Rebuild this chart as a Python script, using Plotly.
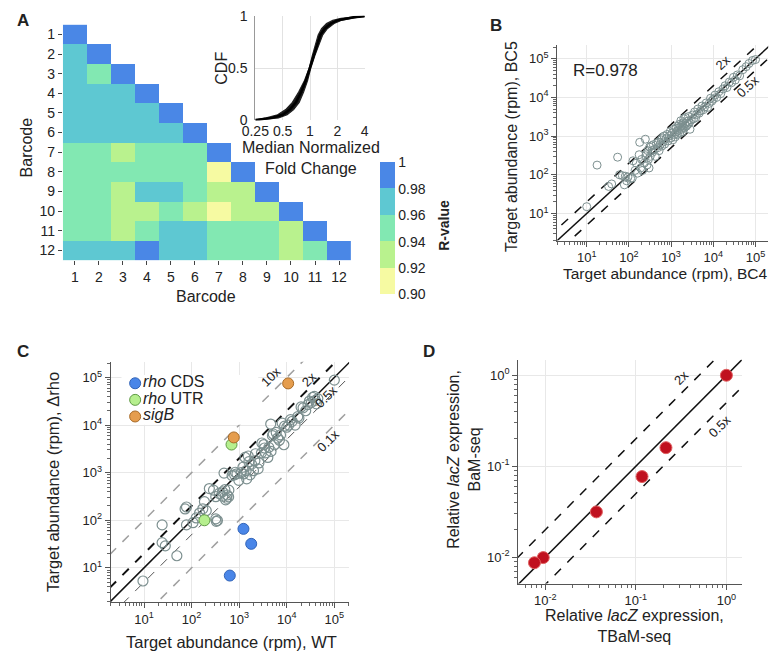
import plotly.graph_objects as go

W, H = 780, 659
FONT = "Liberation Sans, Arial, sans-serif"

# ---------------- data ----------------
# A: pairwise R-values between barcodes (lower triangle, row = barcode on y)
barcodes = list(range(1, 13))
r_values = [
    [1.0],
    [0.970, 1.0],
    [0.968, 0.952, 1.0],
    [0.972, 0.970, 0.966, 1.0],
    [0.971, 0.969, 0.967, 0.973, 1.0],
    [0.966, 0.968, 0.965, 0.970, 0.972, 1.0],
    [0.950, 0.948, 0.935, 0.951, 0.953, 0.949, 1.0],
    [0.952, 0.950, 0.947, 0.949, 0.951, 0.948, 0.915, 1.0],
    [0.948, 0.946, 0.933, 0.965, 0.967, 0.952, 0.931, 0.934, 1.0],
    [0.946, 0.944, 0.930, 0.932, 0.945, 0.933, 0.912, 0.932, 0.935, 1.0],
    [0.949, 0.951, 0.934, 0.950, 0.966, 0.963, 0.947, 0.950, 0.948, 0.936, 1.0],
    [0.968, 0.966, 0.962, 0.985, 0.970, 0.969, 0.953, 0.951, 0.950, 0.933, 0.955, 1.0],
]
cbar_ticks = [0.90, 0.92, 0.94, 0.96, 0.98, 1.0]
cbar_labels = ["0.90", "0.92", "0.94", "0.96", "0.98", "1"]

# A inset: CDF of median normalized fold change (band edges + centre)
cdf_y = [0, 0.02, 0.05, 0.1, 0.17, 0.27, 0.38, 0.5, 0.62, 0.73, 0.82, 0.88, 0.93, 0.96, 0.98, 0.99, 1.0]
cdf_left = [0.25, 0.33, 0.44, 0.54, 0.64, 0.75, 0.87, 0.98, 1.06, 1.14, 1.23, 1.34, 1.52, 1.78, 2.2, 2.8, 4.0]
cdf_mid = [0.25, 0.38, 0.5, 0.6, 0.7, 0.8, 0.9, 1.0, 1.1, 1.2, 1.3, 1.45, 1.7, 2.0, 2.5, 3.0, 4.0]
cdf_right = [0.27, 0.45, 0.56, 0.66, 0.76, 0.85, 0.94, 1.02, 1.13, 1.26, 1.38, 1.55, 1.84, 2.2, 2.8, 3.4, 4.0]

# B: target abundance BC4 vs BC5
bc4 = [10, 17.6, 33, 39, 54, 60, 70, 78, 82, 88, 95, 110, 120, 125, 140, 150, 160, 175, 180, 190,
       200, 210, 230, 245, 250, 260, 270, 280, 290, 300, 310, 320, 340, 350, 360, 380, 400, 420, 450, 480,
       500, 520, 550, 580, 600, 620, 650, 680, 700, 750, 800, 850, 900, 950, 1000, 1050, 1100, 1150, 1200, 1250,
       1300, 1350, 1400, 1450, 1500, 1550, 1600, 1650, 1700, 1750, 1800, 1850, 1900, 1950, 2000, 2050, 2100, 2200, 2300, 2400,
       2500, 2600, 2700, 2800, 3000, 3200, 3400, 3600, 3800, 4000, 4300, 4600, 5000, 5400, 5800, 6200, 6800, 7300, 8000, 8600,
       9200, 10000, 11000, 12000, 13500, 15000, 17000, 19000, 21000, 24000, 27000, 30000, 33000, 37000, 42000, 50000, 60000, 70000, 85000, 100000]
bc5 = [15, 178, 50, 58, 285, 100, 95, 55, 92, 70, 88, 80, 82, 230, 130, 200, 110, 330, 690, 150,
       250, 130, 200, 830, 310, 350, 180, 420, 250, 150, 520, 300, 560, 420, 380, 600, 450, 300, 650, 500,
       700, 420, 600, 800, 550, 900, 700, 1000, 620, 850, 1100, 750, 1000, 1300, 900, 1200, 800, 1500, 1100, 950,
       1600, 1300, 1100, 1800, 1400, 2000, 1200, 1700, 2500, 1500, 1900, 1300, 2200, 1700, 2800, 1600, 2100, 3000, 1800, 2400,
       2000, 3200, 2200, 1500, 2600, 3500, 2800, 4200, 3000, 3600, 5000, 3900, 4500, 6000, 4800, 5600, 7200, 5500, 7000, 9500,
       8000, 9000, 11500, 10000, 14000, 12500, 16500, 20000, 18000, 25000, 24000, 33000, 28000, 38000, 36000, 52000, 62000, 75000, 90000, 95000]
r_text = "R=0.978"

# C: target abundance WT vs delta-rho
wt = [9.5, 24, 24, 28, 49, 73, 78, 78, 107, 125, 147, 172, 186, 203, 322, 349, 330, 236, 288, 322,
      380, 445, 520, 560, 607, 480, 500, 450, 550, 600, 710, 830, 980, 1230, 1440, 800, 900, 1100, 1330, 1550,
      1820, 2140, 2500, 2940, 3400, 4000, 4670, 5500, 6450, 7400, 8700, 1200, 1400, 1600, 1700, 2000, 2200, 2600, 3000, 3300,
      3600, 4200, 4600, 5000, 5200, 6000, 7000, 8000, 9000, 10000, 11000, 12000, 13000, 15000, 17000, 18000, 20000, 22000, 25000, 28000,
      30000, 33000, 35000, 38000, 40000, 42000, 45000, 100000]
drho = [5.3, 80, 34, 29, 18, 173, 190, 80, 89, 112, 142, 174, 247, 159, 107, 99, 95, 464, 430, 313,
        366, 397, 268, 340, 430, 980, 440, 320, 290, 310, 870, 1020, 690, 940, 740, 900, 950, 1000, 2090, 2240,
        1510, 1780, 1200, 2610, 3300, 2090, 2800, 3860, 5330, 6200, 3860, 1300, 1100, 1700, 900, 1100, 2500, 1600, 4200, 3900,
        2600, 3400, 10500, 6000, 6500, 7000, 4800, 11000, 9500, 9000, 10000, 13000, 12000, 10000, 15000, 14000, 24000, 23000, 20000, 27000,
        32000, 30000, 38000, 40000, 33000, 28000, 36000, 88000]
groups = ["<i>rho</i> CDS", "<i>rho</i> UTR", "<i>sigB</i>"]
group_wt = [[1230, 1790, 635], [186, 690], [770, 10700]]
group_drho = [[66, 32, 6.9], [100, 3900], [5500, 75000]]
group_fill = ["#4a86e8", "#b6ef8e", "#e59d4e"]
group_edge = ["#3264b8", "#5f9a45", "#a86a26"]

# D: relative lacZ expression
tbam = [1.0, 0.215, 0.117, 0.0367, 0.0095, 0.0076]
bam = [1.0, 0.16, 0.077, 0.0315, 0.0099, 0.0087]

guide_x = [1e-4, 1e7]


def px(x):
    return x / W


def py(y):
    return 1 - y / H


def note(text, x, y, size=16, angle=0, bold=False, color="#222", xanchor="center"):
    if bold:
        text = "<b>%s</b>" % text
    return dict(text=text, x=px(x), y=py(y), xref="paper", yref="paper", showarrow=False,
                textangle=angle, xanchor=xanchor, yanchor="middle",
                font=dict(size=size, color=color, family=FONT))


def pow10(e):
    return "10<sup>%d</sup>" % e


def log_axis(x0, x1, rng, exps, anchor):
    minor = [k * 10.0 ** e for e in range(-4, 7) for k in range(2, 10)]
    return dict(type="log", domain=[x0, x1], range=rng, anchor=anchor,
                tickvals=[10.0 ** e for e in exps], ticktext=[pow10(e) for e in exps],
                ticks="outside", ticklen=5, tickcolor="#555", showline=True, linecolor="#555",
                linewidth=1, showgrid=True, gridcolor="#e8e8e8", zeroline=False,
                tickfont=dict(size=13, color="#222"),
                minor=dict(tickvals=minor, ticks="outside", ticklen=3, tickcolor="#666", showgrid=False))


fig = go.Figure()

# ---- A heatmap
z = [row + [None] * (12 - len(row)) for row in r_values]
fig.add_trace(go.Heatmap(x=barcodes, y=barcodes, z=z, coloraxis="coloraxis",
                         xaxis="x", yaxis="y", hoverongaps=False))

# ---- A inset CDF
fig.add_trace(go.Scatter(x=cdf_left, y=cdf_y, mode="lines", line=dict(color="#222", width=1.2),
                         xaxis="x2", yaxis="y2", showlegend=False))
fig.add_trace(go.Scatter(x=cdf_right, y=cdf_y, mode="lines", line=dict(color="#222", width=1.2),
                         fill="tonextx", fillcolor="#1a1a1a", xaxis="x2", yaxis="y2", showlegend=False))
fig.add_trace(go.Scatter(x=cdf_mid, y=cdf_y, mode="lines", line=dict(color="#000", width=2.5),
                         xaxis="x2", yaxis="y2", showlegend=False))

# ---- B
for ratio, dash in [(1, "solid"), (2, "dash"), (0.5, "dash")]:
    fig.add_trace(go.Scatter(x=guide_x, y=[ratio * v for v in guide_x], mode="lines",
                             line=dict(color="#111", width=1.5, dash=dash),
                             xaxis="x3", yaxis="y3", showlegend=False, hoverinfo="skip"))
fig.add_trace(go.Scatter(x=bc4, y=bc5, mode="markers", showlegend=False, xaxis="x3", yaxis="y3",
                         marker=dict(symbol="circle-open", size=8, color="#7d9090", line=dict(width=1))))

# ---- C
for ratio, dash, color, width in [(10, "dash", "#a0a0a0", 1.5), (2, "dash", "#111", 2),
                                  (1, "solid", "#111", 1.5), (0.5, "dash", "#555", 1),
                                  (0.1, "dash", "#a0a0a0", 1.5)]:
    fig.add_trace(go.Scatter(x=guide_x, y=[ratio * v for v in guide_x], mode="lines",
                             line=dict(color=color, width=width, dash=dash),
                             xaxis="x4", yaxis="y4", showlegend=False, hoverinfo="skip"))
fig.add_trace(go.Scatter(x=wt, y=drho, mode="markers", showlegend=False, xaxis="x4", yaxis="y4",
                         marker=dict(symbol="circle-open", size=10, color="#7d9090", line=dict(width=1.2))))
for name, gx, gy, fc, ec in zip(groups, group_wt, group_drho, group_fill, group_edge):
    fig.add_trace(go.Scatter(x=gx, y=gy, mode="markers", name=name, xaxis="x4", yaxis="y4",
                             showlegend=False,
                             marker=dict(size=11, color=fc, line=dict(color=ec, width=1))))

# legend for C, laid out on its own hidden axis so rows sit 17px apart
fig.add_trace(go.Scatter(x=[0] * len(groups), y=groups, mode="markers+text", text=groups,
                         textposition="middle right", xaxis="x6", yaxis="y6", showlegend=False,
                         textfont=dict(size=16, color="#222"), cliponaxis=False,
                         marker=dict(size=11, color=group_fill, line=dict(color=group_edge, width=1))))

# ---- D
for ratio, dash in [(1, "solid"), (2, "dash"), (0.5, "dash")]:
    fig.add_trace(go.Scatter(x=guide_x, y=[ratio * v for v in guide_x], mode="lines",
                             line=dict(color="#111", width=1.5, dash=dash),
                             xaxis="x5", yaxis="y5", showlegend=False, hoverinfo="skip"))
fig.add_trace(go.Scatter(x=tbam, y=bam, mode="markers", showlegend=False, xaxis="x5", yaxis="y5",
                         marker=dict(size=12, color="#c0111f", line=dict(color="#e06060", width=1))))

# ---- colours for the R-value scale (0.90 -> 1.0, five bands)
band_cols = ["#f6faa2", "#b9f28e", "#82e8b2", "#5ec8d2", "#4a87e6"]
cscale = []
for i, c in enumerate(band_cols):
    cscale += [[i / 5, c], [(i + 1) / 5, c]]

heat_ax = dict(showgrid=False, zeroline=False, showline=False, ticks="outside", ticklen=4,
               tickcolor="#444", tickfont=dict(size=14, color="#222"), tickvals=barcodes)

fig.update_layout(
    width=W, height=H, margin=dict(l=0, r=0, t=0, b=0),
    paper_bgcolor="white", plot_bgcolor="white",
    font=dict(family=FONT, color="#222"),
    showlegend=False,
    coloraxis=dict(cmin=0.9, cmax=1.0, colorscale=cscale,
                   colorbar=dict(x=px(375), xanchor="left", y=py(158), yanchor="top",
                                 len=132, lenmode="pixels", thickness=15, xpad=0, ypad=0,
                                 outlinewidth=0, tickvals=cbar_ticks, ticktext=cbar_labels,
                                 ticks="", tickfont=dict(size=14, color="#222"))),
    xaxis=dict(heat_ax, domain=[px(50), px(345)], range=[0.5, 12.5], anchor="y"),
    yaxis=dict(heat_ax, domain=[py(258), py(17)], range=[12.5, 0.5], anchor="x"),
    xaxis2=dict(type="log", domain=[px(247), px(359)], range=[-0.60206, 0.60206], anchor="y2",
                tickvals=[0.25, 0.5, 1, 2, 4], ticktext=["0.25", "0.5", "1", "2", "4"],
                showgrid=True, gridcolor="#e2e2e2", zeroline=False, showline=False, ticks="",
                ticklabelstandoff=1, tickfont=dict(size=14, color="#222")),
    yaxis2=dict(domain=[py(115), py(8)], range=[-0.004, 1.004], anchor="x2", tickvals=[0, 0.5, 1],
                ticktext=["0", "0.5", "1"], showgrid=True, gridcolor="#e2e2e2", zeroline=False,
                showline=True, linecolor="#999", ticks="", ticklabelstandoff=4,
                tickfont=dict(size=14, color="#222")),
    xaxis3=log_axis(px(556), px(772), [0.3, 5.3], [1, 2, 3, 4, 5], "y3"),
    yaxis3=log_axis(py(238), py(38), [0.3, 5.35], [1, 2, 3, 4, 5], "x3"),
    xaxis4=log_axis(px(99), px(343), [0.3, 5.31], [1, 2, 3, 4, 5], "y4"),
    yaxis4=log_axis(py(608), py(362), [0.28, 5.33], [1, 2, 3, 4, 5], "x4"),
    xaxis5=log_axis(px(516), px(745), [-2.3, 0.17], [-2, -1, 0], "y5"),
    yaxis5=log_axis(py(589), py(360), [-2.29, 0.17], [-2, -1, 0], "x5"),
    xaxis6=dict(domain=[px(110), px(250)], range=[-0.1, 0.9], anchor="y6", visible=False),
    yaxis6=dict(domain=[py(426.5), py(375.5)], range=[2.5, -0.5], anchor="x6", visible=False,
                type="category"),
    annotations=[
        note("A", 9, 13, 17, bold=True), note("B", 493, 18, 17, bold=True),
        note("C", 9, 352, 17, bold=True), note("D", 425, 352, 17, bold=True),
        note("Barcode", 197, 295, 16), note("Barcode", 13, 143, 16, angle=-90),
        note("CDF", 212, 62, 16, angle=-90),
        note("Median Normalized<br>Fold Change", 304, 154, 16),
        note("R-value", 440, 222, 14, angle=-90, bold=True),
        note("Target abundance (rpm), BC4", 667, 272, 15.5),
        note("Target abundance (rpm), BC5", 510, 142, 16, angle=-90),
        note(r_text, 605, 64, 17),
        note("2x", 726, 56, 13, angle=-43), note("0.5x", 751, 80, 13, angle=-43),
        note("Target abundance (rpm), WT", 223, 649, 16.5),
        note("Target abundance (rpm), \u0394rho", 40, 485, 16.5, angle=-90),
        note("10x", 263, 377, 13, angle=-45), note("2x", 302, 380, 13, angle=-45),
        note("0.5x", 320, 398, 13, angle=-45), note("0.1x", 322, 443, 13, angle=-45),
        note("Relative <i>lacZ</i> expression,<br>TBaM-seq", 635, 632, 16),
        note("Relative <i>lacZ</i> expression,<br>BaM-seq", 461, 462, 16, angle=-90),
        note("2x", 683, 378, 13, angle=-45), note("0.5x", 722, 428, 13, angle=-45),
    ],
)

# the page body gets the browser's default 8px margin; drop it so the figure sits at 0,0
fig.write_html("out.html", config={"displayModeBar": False},
               post_script="document.body.style.margin = '0';")
